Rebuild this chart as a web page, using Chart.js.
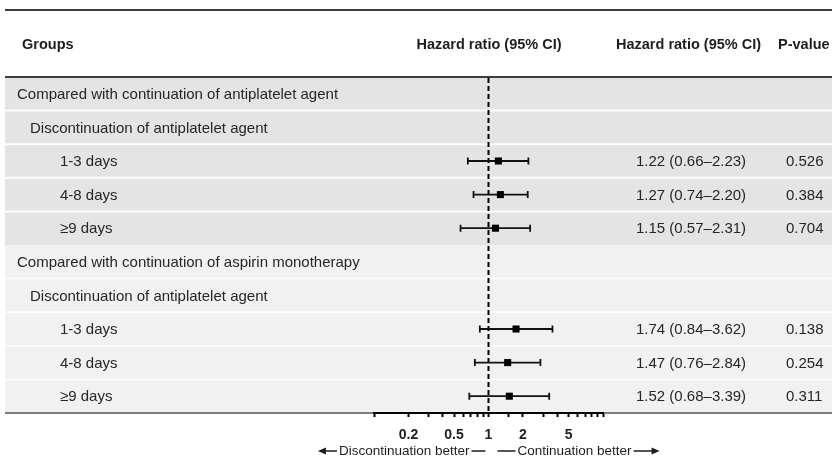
<!DOCTYPE html>
<html lang="en">
<head>
<meta charset="UTF-8">
<title>Hazard ratios by discontinuation period</title>
<script src="https://cdn.jsdelivr.net/npm/chart.js"></script>
<style>
  body { margin: 0; background: #fff; }
  #wrap { position: relative; width: 832px; height: 459px; }
</style>
</head>
<body>
<div id="wrap"><canvas id="forest"></canvas></div>
<script>
// table rows, top to bottom
var rowLabels = [
  'Compared with continuation of antiplatelet agent',
  'Discontinuation of antiplatelet agent',
  '1-3 days',
  '4-8 days',
  '≥9 days',
  'Compared with continuation of aspirin monotherapy',
  'Discontinuation of antiplatelet agent',
  '1-3 days',
  '4-8 days',
  '≥9 days'
];
var rowLevel = [0, 1, 2, 2, 2, 0, 1, 2, 2, 2];

var hazard = [null, null, 1.22, 1.27, 1.15, null, null, 1.74, 1.47, 1.52];
var ciLow  = [null, null, 0.66, 0.74, 0.57, null, null, 0.84, 0.76, 0.68];
var ciHigh = [null, null, 2.23, 2.20, 2.31, null, null, 3.62, 2.84, 3.39];
var pValues = ['', '', '0.526', '0.384', '0.704', '', '', '0.138', '0.254', '0.311'];

var tickLabels = [0.2, 0.5, 1, 2, 5];
var headers = ['Groups', 'Hazard ratio (95% CI)', 'Hazard ratio (95% CI)', 'P-value'];
var arrowLabels = ['Discontinuation better', 'Continuation better'];

var FONT = '"Liberation Sans", Arial, sans-serif';

// group index for shading: each level-0 row opens a new group
var groupOf = [];
var g = -1;
rowLevel.forEach(function (lv) { if (lv === 0) g++; groupOf.push(g); });

function ciText(i) {
  return hazard[i].toFixed(2) + ' (' + ciLow[i].toFixed(2) + '–' + ciHigh[i].toFixed(2) + ')';
}

var points = [];
hazard.forEach(function (v, i) {
  if (v !== null) points.push({ x: v, y: i + 0.5 });
});

function arrowHead(ctx, x, y, dir) {
  ctx.beginPath();
  ctx.moveTo(x, y);
  ctx.lineTo(x - dir * 8, y - 3.5);
  ctx.lineTo(x - dir * 8, y + 3.5);
  ctx.closePath();
  ctx.fill();
}

var tablePlugin = {
  id: 'forestTable',
  beforeDraw: function (chart) {
    var ctx = chart.ctx, ys = chart.scales.y, W = chart.width;
    var left = 5;
    ctx.save();
    ctx.fillStyle = '#fff';
    ctx.fillRect(0, 0, W, chart.height);

    // row bands
    rowLabels.forEach(function (label, i) {
      var top = ys.getPixelForValue(i), bottom = ys.getPixelForValue(i + 1);
      ctx.fillStyle = groupOf[i] === 0 ? '#e4e4e4' : '#f1f1f1';
      ctx.fillRect(left, top, W - left, bottom - top);
    });
    // white separators
    ctx.strokeStyle = '#fcfcfc';
    ctx.lineWidth = 2;
    for (var i = 1; i < rowLabels.length; i++) {
      if (i === 5) continue;
      var yy = ys.getPixelForValue(i);
      ctx.beginPath(); ctx.moveTo(left, yy); ctx.lineTo(W, yy); ctx.stroke();
    }

    // row texts
    ctx.font = '15px ' + FONT;
    ctx.fillStyle = '#262626';
    ctx.textBaseline = 'middle';
    var indentPx = [17, 30, 60];
    rowLabels.forEach(function (label, i) {
      var cy = ys.getPixelForValue(i + 0.5) + 1;
      ctx.textAlign = 'left';
      ctx.fillText(label, indentPx[rowLevel[i]], cy);
      if (hazard[i] !== null) {
        ctx.fillText(ciText(i), 636, cy);
        ctx.fillText(pValues[i], 786, cy);
      }
    });

    // header
    ctx.font = 'bold 14.5px ' + FONT;
    ctx.fillStyle = '#1e1e1e';
    ctx.textAlign = 'left';
    ctx.fillText(headers[0], 22, 45);
    ctx.textAlign = 'center';
    ctx.fillText(headers[1], 489, 45);
    ctx.textAlign = 'left';
    ctx.fillText(headers[2], 616, 45);
    ctx.fillText(headers[3], 778, 45);

    // rules
    ctx.strokeStyle = '#3c3c3c';
    ctx.lineWidth = 2;
    ctx.beginPath(); ctx.moveTo(left, 10); ctx.lineTo(W, 10); ctx.stroke();
    ctx.beginPath(); ctx.moveTo(left, 77); ctx.lineTo(W, 77); ctx.stroke();
    ctx.strokeStyle = '#555';
    ctx.lineWidth = 1.5;
    var yb = ys.getPixelForValue(rowLabels.length);
    ctx.beginPath(); ctx.moveTo(left, yb); ctx.lineTo(W, yb); ctx.stroke();
    ctx.restore();
  },
  beforeDatasetsDraw: function (chart) {
    var ctx = chart.ctx, xs = chart.scales.x, ys = chart.scales.y, area = chart.chartArea;
    ctx.save();
    // reference line at HR = 1
    var x1 = xs.getPixelForValue(1);
    ctx.strokeStyle = '#000';
    ctx.lineWidth = 2;
    ctx.setLineDash([5, 3]);
    ctx.beginPath(); ctx.moveTo(x1, area.top + 1); ctx.lineTo(x1, area.bottom); ctx.stroke();
    ctx.setLineDash([]);

    // confidence intervals
    ctx.strokeStyle = '#111';
    ctx.lineWidth = 1.8;
    hazard.forEach(function (v, i) {
      if (v === null) return;
      var cy = ys.getPixelForValue(i + 0.5);
      var xa = xs.getPixelForValue(ciLow[i]), xb = xs.getPixelForValue(ciHigh[i]);
      ctx.beginPath();
      ctx.moveTo(xa, cy); ctx.lineTo(xb, cy);
      ctx.moveTo(xa, cy - 3.5); ctx.lineTo(xa, cy + 3.5);
      ctx.moveTo(xb, cy - 3.5); ctx.lineTo(xb, cy + 3.5);
      ctx.stroke();
    });
    ctx.restore();
  },
  afterDraw: function (chart) {
    var ctx = chart.ctx, xs = chart.scales.x;
    var x1 = xs.getPixelForValue(1);
    var y = 451;
    ctx.save();
    ctx.font = '13.5px ' + FONT;
    ctx.fillStyle = '#1e1e1e';
    ctx.strokeStyle = '#1e1e1e';
    ctx.lineWidth = 1.5;
    ctx.textBaseline = 'middle';

    // left: arrow, text, dash
    var wL = ctx.measureText(arrowLabels[0]).width;
    var endL = x1 - 3;
    var tL = endL - 16 - wL;
    ctx.textAlign = 'left';
    ctx.fillText(arrowLabels[0], tL, y);
    ctx.beginPath(); ctx.moveTo(endL - 14, y); ctx.lineTo(endL, y); ctx.stroke();
    ctx.beginPath(); ctx.moveTo(tL - 18, y); ctx.lineTo(tL - 2, y); ctx.stroke();
    arrowHead(ctx, tL - 21, y, -1);

    // right: dash, text, arrow
    var startR = x1 + 9;
    var tR = startR + 20;
    var wR = ctx.measureText(arrowLabels[1]).width;
    ctx.fillText(arrowLabels[1], tR, y);
    ctx.beginPath(); ctx.moveTo(startR, y); ctx.lineTo(tR - 2, y); ctx.stroke();
    ctx.beginPath(); ctx.moveTo(tR + wR + 2, y); ctx.lineTo(tR + wR + 22, y); ctx.stroke();
    arrowHead(ctx, tR + wR + 28, y, 1);
    ctx.restore();
  }
};

new Chart(document.getElementById('forest'), {
  type: 'scatter',
  data: {
    datasets: [{
      data: points,
      pointStyle: 'rect',
      pointRadius: 5,
      backgroundColor: '#000',
      borderWidth: 0
    }]
  },
  options: {
    responsive: true,
    maintainAspectRatio: false,
    animation: false,
    events: [],
    layout: { padding: { left: 374, right: 229, top: 77, bottom: 0 } },
    plugins: { legend: { display: false }, tooltip: { enabled: false } },
    scales: {
      x: {
        type: 'logarithmic',
        position: 'bottom',
        min: 0.1,
        max: 10,
        border: { display: true, color: '#000', width: 2 },
        grid: { display: true, drawOnChartArea: false, drawTicks: true, tickLength: 4, tickColor: '#000', tickWidth: 2 },
        ticks: {
          autoSkip: false,
          maxRotation: 0,
          padding: 10,
          color: '#1e1e1e',
          font: { family: FONT, size: 14, weight: 'bold' },
          callback: function (v) {
            for (var k = 0; k < tickLabels.length; k++) {
              if (Math.abs(v - tickLabels[k]) < 1e-9) return String(tickLabels[k]);
            }
            return '';
          }
        },
        afterFit: function (s) { s.height = 46; }
      },
      y: {
        type: 'linear',
        display: false,
        min: 0,
        max: rowLabels.length,
        reverse: true
      }
    }
  },
  plugins: [tablePlugin]
});
</script>
</body>
</html>
